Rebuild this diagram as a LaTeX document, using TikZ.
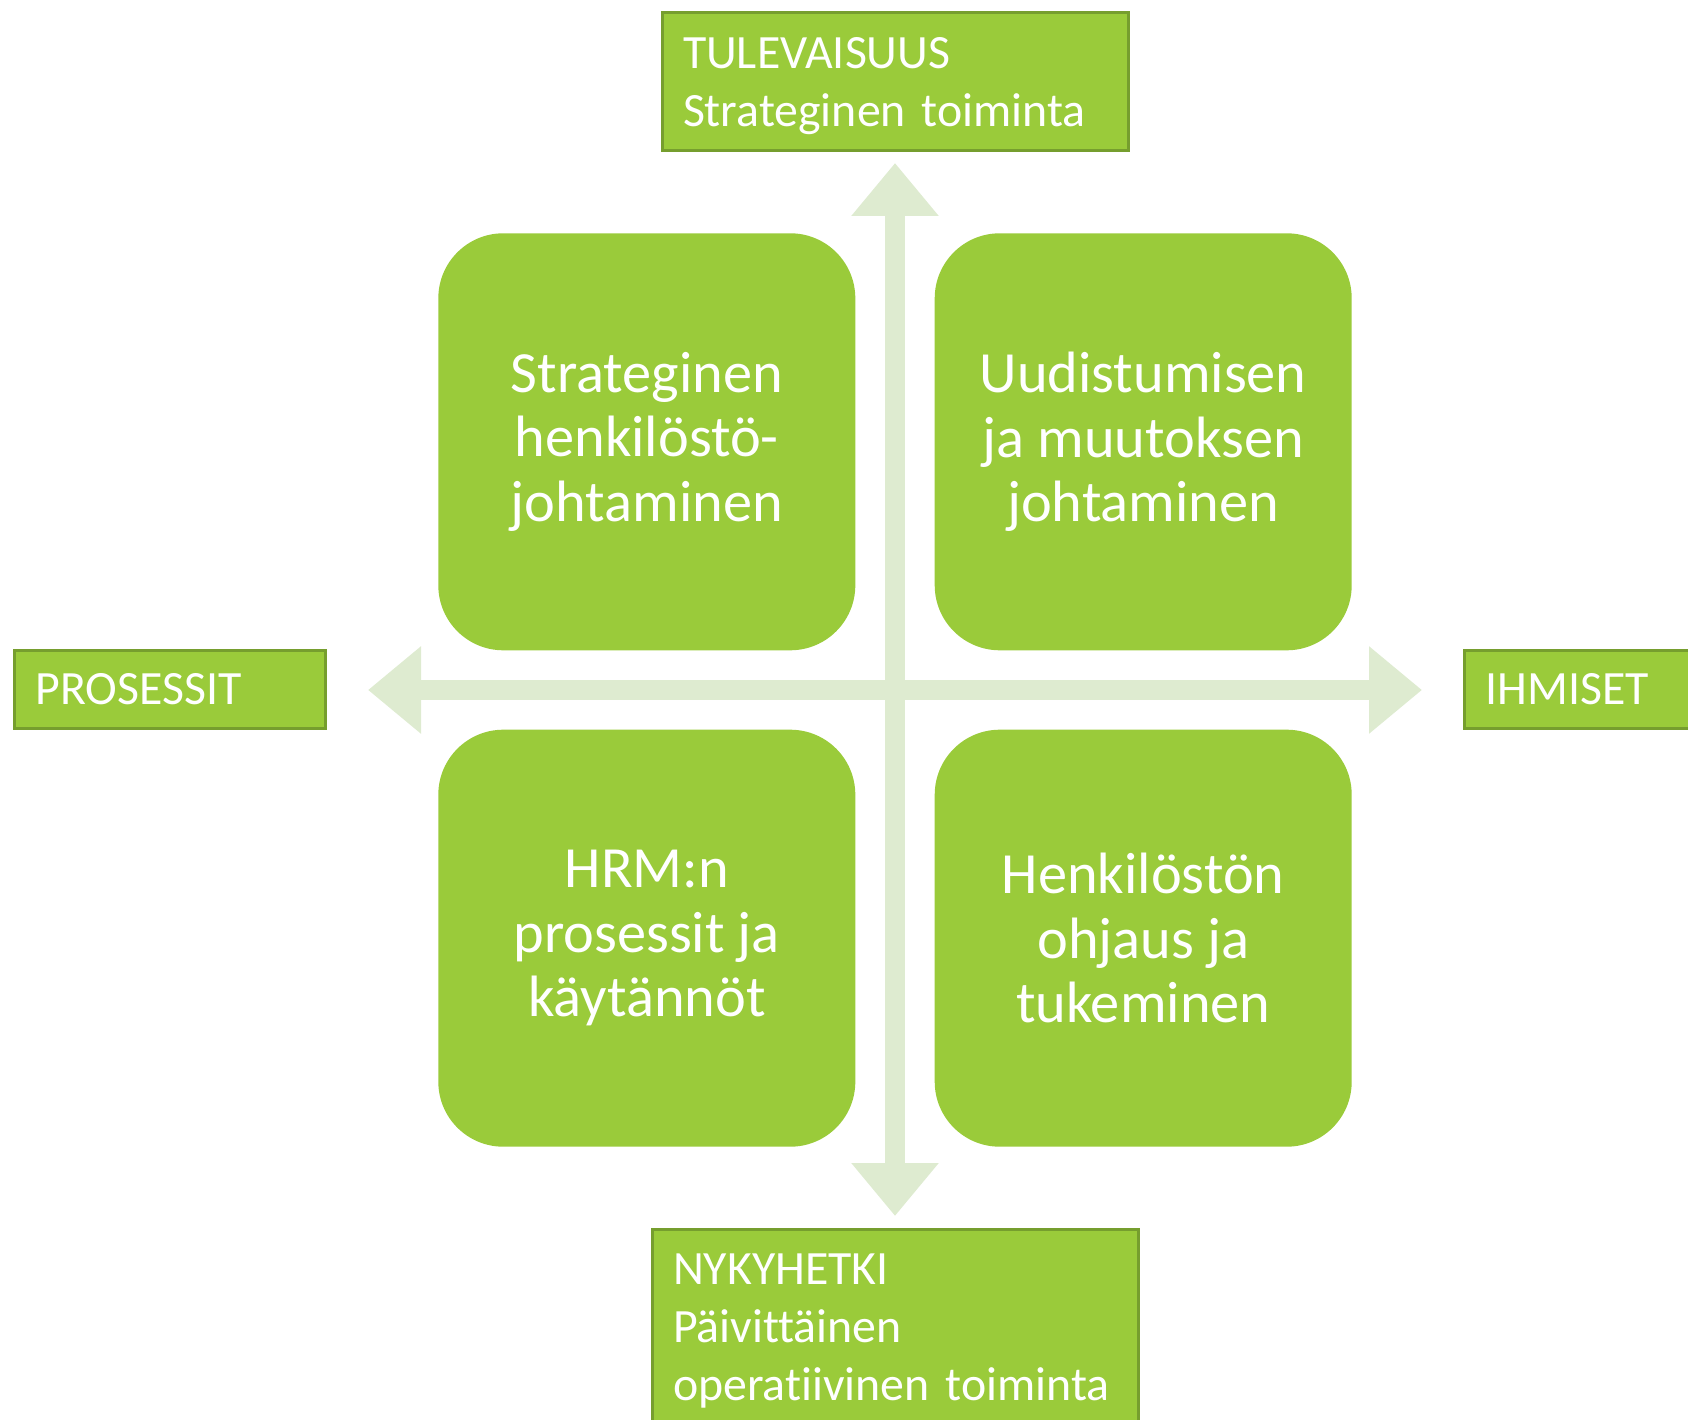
\documentclass[tikz,border=0pt]{standalone}
\usepackage{fontspec}
\setmainfont{Carlito}[Ligatures=NoCommon]
\usepackage{tikz}
\usetikzlibrary{arrows.meta,positioning}
\usepackage{xcolor}
\definecolor{hrgreen}{RGB}{154,203,58}
\definecolor{hrborder}{RGB}{118,158,46}
\definecolor{hraxis}{RGB}{222,235,208}
\tikzstyle{axis} = [color=hraxis, line width=2mm, line cap=butt, arrows={Triangle[width=8.4mm,length=5.3mm]-Triangle[width=8.4mm,length=5.3mm]}]
\tikzstyle{quadrant} = [rectangle, rounded corners=6.5mm, minimum width=41.7mm, minimum height=41.7mm, inner sep=0pt, fill=hrgreen, text=white, align=center, font=\fontsize{16.6pt}{18.4pt}\selectfont]
\tikzstyle{axislabel} = [rectangle, draw=hrborder, line width=0.3mm, fill=hrgreen, text=white, align=left, inner xsep=2.1mm, inner ysep=0pt, font=\fontsize{13.6pt}{16.5pt}\selectfont]

\begin{document}
\begin{tikzpicture}[x=0.1mm, y=-0.1mm]
\clip (0,0) rectangle (1688,1420);
% HR management quadrants
\coordinate (center) at (895,690);
\coordinate (uptip) at (895,163);
\coordinate (downtip) at (895,1216);
\coordinate (lefttip) at (368,690);
\coordinate (righttip) at (1422,690);

\draw[axis] (downtip) -- (uptip);
\draw[axis] (lefttip) -- (righttip);

\node (strat) [quadrant, above left=3.9mm and 3.9mm of center] {Strateginen\\henkilöstö-\\johtaminen};
\node (change) [quadrant, above right=3.9mm and 3.9mm of center] {Uudistumisen\\ja muutoksen\\johtaminen};
\node (process) [quadrant, below left=3.9mm and 3.9mm of center] {HRM:n\\prosessit ja\\käytännöt};
\node (support) [quadrant, below right=3.9mm and 3.9mm of center] {Henkilöstön\\ohjaus ja\\tukeminen};

\node (future) [axislabel, above=1.1mm of uptip, text width=42.4mm, text height=5.6mm, text depth=8.2mm] {TULEVAISUUS\\Strateginen toiminta};
\node (present) [axislabel, below=1.2mm of downtip, text width=44.4mm, text height=5.5mm, text depth=20mm] {NYKYHETKI\\Päivittäinen\\operatiivinen toiminta};
\node (processes) [axislabel, left=4.1mm of lefttip, text width=26.9mm, text height=5.4mm, text depth=2.4mm] {PROSESSIT};
\node (people) [axislabel, right=4.1mm of righttip, text width=27.2mm, text height=5.4mm, text depth=2.4mm] {IHMISET};
\end{tikzpicture}
\end{document}
